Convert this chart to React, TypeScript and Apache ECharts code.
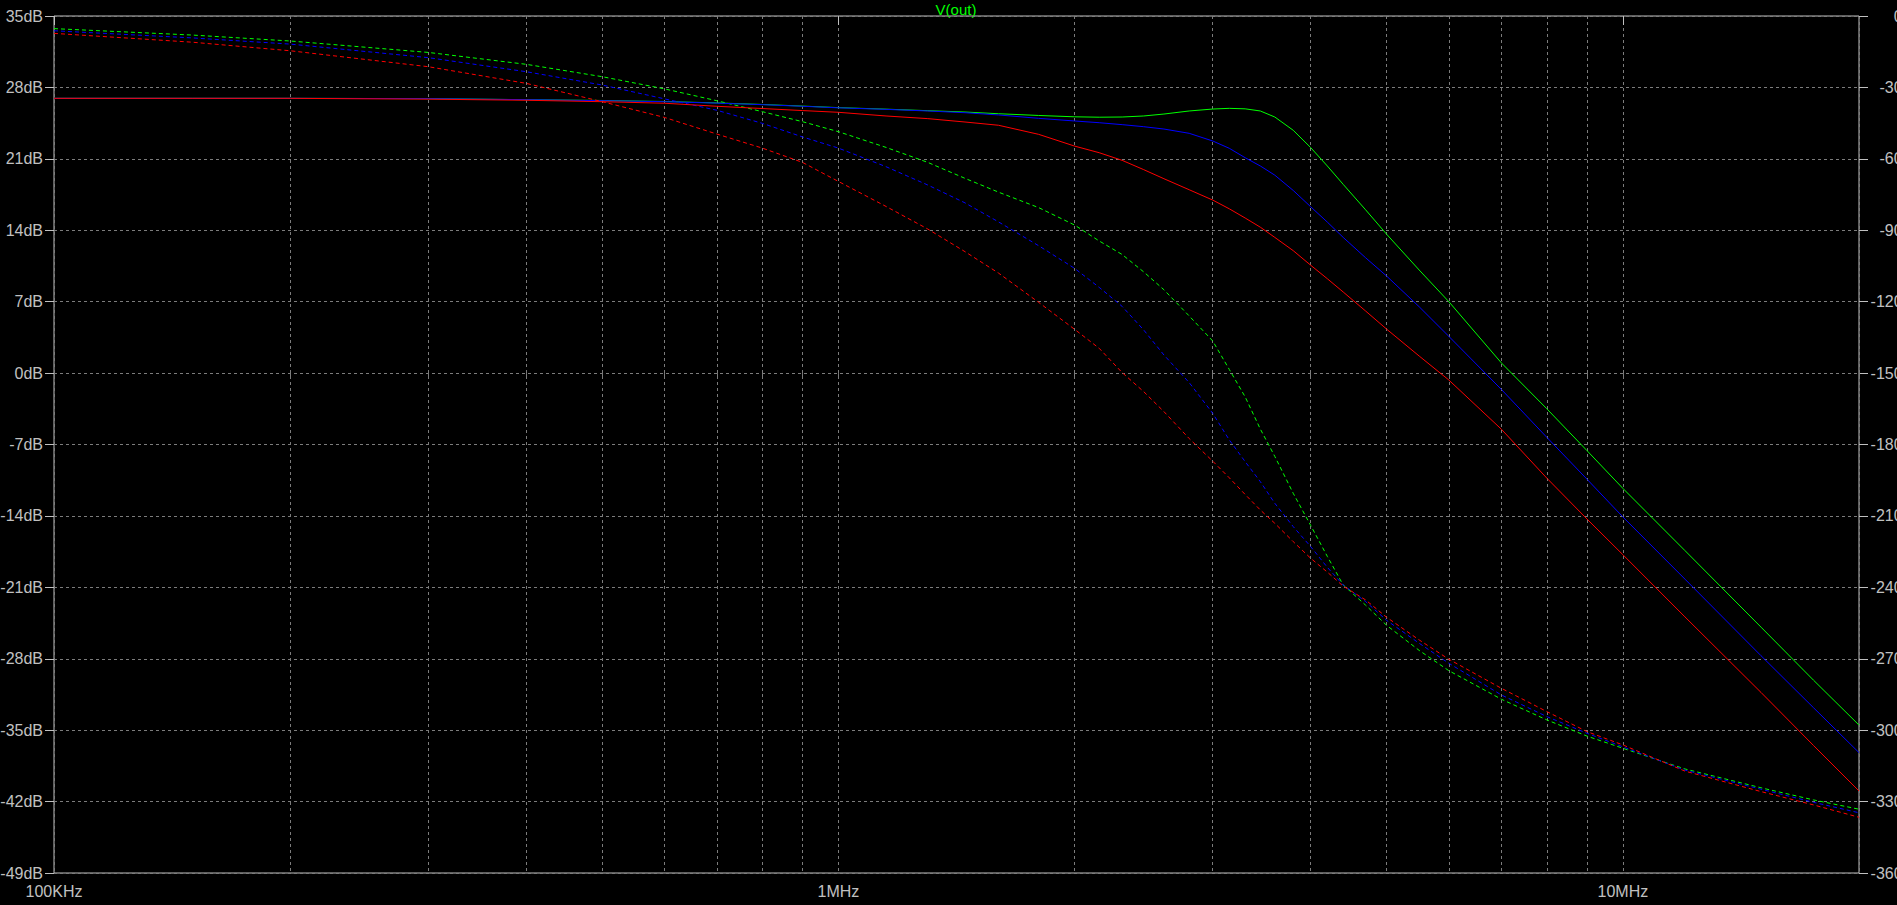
import React, { useEffect, useRef } from "react";
import * as echarts from "echarts";

// Frequencies (Hz) at which the traces were read
const freqHz = [
  1e5, 1.5e5, 2e5, 3e5, 4e5, 5e5, 6e5, 7e5, 8e5, 9e5,
  1e6, 1.15e6, 1.3e6, 1.45e6, 1.6e6, 1.8e6, 2e6, 2.15e6, 2.3e6, 2.45e6,
  2.6e6, 2.8e6, 3e6, 3.15e6, 3.3e6, 3.45e6, 3.6e6, 3.8e6, 4e6, 4.2e6,
  4.4e6, 4.7e6, 5e6, 5.5e6, 6e6, 7e6, 8e6, 9e6, 1e7, 1.2e7,
  1.5e7, 1.75e7, 2e7,
];

// Magnitude (dB), left axis
const greenMagDb = [
  26.93, 26.93, 26.93, 26.9, 26.8, 26.72, 26.62, 26.48, 26.33, 26.17,
  26.02, 25.87, 25.72, 25.59, 25.42, 25.25, 25.12, 25.08, 25.1, 25.2,
  25.39, 25.69, 25.88, 25.95, 25.9, 25.69, 25.1, 23.8, 22.1, 20.3,
  18.5, 16.0, 13.6, 10.1, 7.0, 1.0, -3.5, -7.6, -11.3, -17.4,
  -24.9, -30.1, -34.5,
];
const blueMagDb = [
  26.93, 26.93, 26.93, 26.9, 26.8, 26.7, 26.6, 26.46, 26.31, 26.15,
  26.0, 25.85, 25.69, 25.52, 25.3, 24.97, 24.71, 24.54, 24.35, 24.15,
  23.92, 23.5, 22.75, 22.03, 21.11, 20.3, 19.4, 17.9, 16.3, 14.8,
  13.3, 11.3, 9.5, 6.5, 3.6, -1.6, -6.3, -10.4, -14.1, -20.2,
  -27.7, -32.8, -37.2,
];
const redMagDb = [
  26.93, 26.93, 26.93, 26.85, 26.74, 26.6, 26.45, 26.15, 25.93, 25.73,
  25.56, 25.2, 24.94, 24.61, 24.29, 23.4, 22.25, 21.6, 20.85, 19.94,
  19.05, 17.97, 16.96, 16.1, 15.2, 14.3, 13.3, 12.0, 10.57, 9.25,
  7.95, 6.08, 4.3, 1.67, -0.68, -5.5, -10.3, -14.3, -17.8, -23.9,
  -31.3, -36.5, -40.96,
];

// Phase (degrees), right axis
const greenPhaseDeg = [
  -5.3, -8.0, -10.5, -15.3, -20.3, -25.5, -30.6, -35.6, -40.2, -44.4,
  -48.6, -55.2, -61.5, -68.2, -74.0, -80.5, -87.8, -94.5, -100.2, -107.5,
  -115, -126, -136.5, -148.5, -160, -173.5, -185, -200.5, -214, -227,
  -239, -247.5, -256, -266.5, -275, -287, -295.7, -302.5, -307.6, -316.3,
  -324.2, -329.3, -333.2,
];
const bluePhaseDeg = [
  -6.2, -9.2, -11.8, -17.5, -23.4, -29.0, -34.8, -39.6, -45.1, -50.8,
  -55.5, -63.3, -71, -78.5, -86.5, -96.5, -106, -114, -122, -131.9,
  -142.4, -154, -166.9, -178.1, -187.2, -195.6, -204.7, -214.5, -222.9, -231.6,
  -239, -246, -253.9, -263.5, -271.9, -285.2, -294.3, -301.3, -307, -316.8,
  -324.8, -330.3, -334.7,
];
const redPhaseDeg = [
  -7.3, -11.0, -14.6, -21.3, -28.3, -36.0, -42.6, -49.6, -55.5, -61.5,
  -69.5, -80, -89.5, -99, -108, -120.3, -131.6, -139.6, -149.8, -157.8,
  -166.2, -177.5, -187, -194, -201, -207.5, -213.1, -220.8, -227.8, -233.6,
  -239.5, -245.3, -252.6, -262.1, -270.2, -282.4, -292.2, -300.6, -306.2, -317.2,
  -325.8, -331.4, -336.6,
];

// Axis ticks / labels
const xMajorTicks = [1e5, 1e6, 1e7];
const xAllTicks = [
  1e5, 2e5, 3e5, 4e5, 5e5, 6e5, 7e5, 8e5, 9e5,
  1e6, 2e6, 3e6, 4e6, 5e6, 6e6, 7e6, 8e6, 9e6,
  1e7, 2e7,
];
const xTickLabels = ["100KHz", "1MHz", "10MHz"];
const dbRange = { min: -49, max: 35, step: 7 };
const degRange = { min: -360, max: 0, step: 30 };

const GRID_COLOR = "#7c7c7c";
const AXIS_COLOR = "#c0c0c0";
const FONT = '"Liberation Sans", Arial, sans-serif';

function pairs(ys: number[]) {
  return freqHz.map((f, i) => [f, ys[i]]);
}

function xLabel(v: number) {
  const idx = xMajorTicks.findIndex((t) => Math.abs(t - v) / t < 1e-6);
  return idx >= 0 ? xTickLabels[idx] : "";
}

function lineSeries(name: string, ys: number[], color: string, phase: boolean) {
  return {
    type: "line",
    name,
    xAxisIndex: 0,
    yAxisIndex: phase ? 1 : 0,
    data: pairs(ys),
    showSymbol: false,
    symbol: "none",
    smooth: false,
    silent: true,
    lineStyle: {
      color,
      width: 1,
      type: phase ? [4, 3] : "solid",
    },
  };
}

export default function App() {
  const ref = useRef<HTMLDivElement>(null);

  useEffect(() => {
    if (!ref.current) return;
    const chart = echarts.init(ref.current, undefined, { renderer: "svg" });
    const option: any = {
      animation: false,
      backgroundColor: "#000000",
      grid: {
        left: 54,
        right: 38,
        top: 16,
        bottom: 32,
        outerBoundsMode: "none",
        containLabel: false,
        show: true,
        borderColor: AXIS_COLOR,
        borderWidth: 1,
        backgroundColor: "transparent",
      },
      graphic: [
        {
          type: "text",
          x: 956,
          y: 9,
          style: {
            text: "V(out)",
            fill: "#00ff00",
            font: `15px ${FONT}`,
            align: "center",
            verticalAlign: "middle",
          },
        },
      ],
      xAxis: [
        {
          type: "log",
          logBase: 10,
          min: 1e5,
          max: 2e7,
          position: "bottom",
          axisLine: { show: false },
          axisTick: {
            show: true,
            customValues: xAllTicks,
            length: 4,
            lineStyle: { color: GRID_COLOR, width: 1 },
          },
          axisLabel: {
            show: true,
            customValues: xMajorTicks,
            formatter: xLabel,
            color: AXIS_COLOR,
            fontSize: 16,
            fontFamily: FONT,
            margin: 10,
          },
          splitLine: {
            show: true,
            lineStyle: { color: GRID_COLOR, width: 1, type: [3, 3] },
          },
        },
        {
          type: "log",
          logBase: 10,
          min: 1e5,
          max: 2e7,
          position: "bottom",
          axisLine: { show: false },
          axisTick: {
            show: true,
            customValues: xMajorTicks,
            length: 9,
            lineStyle: { color: AXIS_COLOR, width: 1 },
          },
          axisLabel: { show: false },
          splitLine: { show: false },
        },
      ],
      yAxis: [
        {
          type: "value",
          position: "left",
          min: dbRange.min,
          max: dbRange.max,
          interval: dbRange.step,
          axisLine: { show: false },
          axisTick: {
            show: true,
            length: 9,
            lineStyle: { color: AXIS_COLOR, width: 1 },
          },
          axisLabel: {
            formatter: (v: number) => `${v}dB`,
            color: AXIS_COLOR,
            fontSize: 16,
            fontFamily: FONT,
            margin: 11,
          },
          splitLine: {
            show: true,
            lineStyle: { color: GRID_COLOR, width: 1, type: [3, 3] },
          },
        },
        {
          type: "value",
          position: "right",
          min: degRange.min,
          max: degRange.max,
          interval: degRange.step,
          axisLine: { show: false },
          axisTick: {
            show: true,
            length: 9,
            lineStyle: { color: AXIS_COLOR, width: 1 },
          },
          axisLabel: {
            formatter: (v: number) => `${v}°`,
            color: AXIS_COLOR,
            fontSize: 16,
            fontFamily: FONT,
            align: "right",
            margin: 50,
          },
          splitLine: { show: false },
        },
      ],
      series: [
        lineSeries("green magnitude", greenMagDb, "#00ff00", false),
        lineSeries("green phase", greenPhaseDeg, "#00ff00", true),
        lineSeries("blue magnitude", blueMagDb, "#0000ff", false),
        lineSeries("blue phase", bluePhaseDeg, "#0000ff", true),
        lineSeries("red magnitude", redMagDb, "#ff0000", false),
        lineSeries("red phase", redPhaseDeg, "#ff0000", true),
      ],
    };
    chart.setOption(option);
    return () => chart.dispose();
  }, []);

  return (
    <div
      ref={ref}
      style={{
        position: "fixed",
        left: 0,
        top: 0,
        width: 1897,
        height: 905,
        background: "#000",
      }}
    />
  );
}
